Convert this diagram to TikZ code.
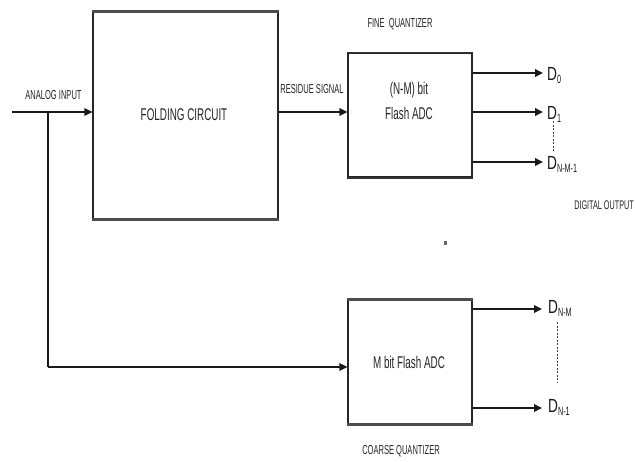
\documentclass[tikz,border=0pt]{standalone}
\usepackage{fontspec}
\setmainfont{Liberation Sans}
\newfontfamily\nf[FakeStretch=0.58]{Liberation Sans}
\newfontfamily\df[FakeStretch=0.72]{Liberation Sans}
\newfontfamily\subf[FakeStretch=0.6]{Liberation Sans}
\usetikzlibrary{arrows.meta}
\newcommand{\dlab}[1]{{\df\fontsize{19}{19}\selectfont D\raisebox{-3.5pt}{\subf\fontsize{12}{12}\selectfont #1}}}
\begin{document}
\begin{tikzpicture}[x=1pt,y=-1pt,
  blockbox/.style={draw=black!85, line width=1.2pt, fill=white, inner sep=0pt},
  wire/.style={line width=1.8pt, draw=black!90},
  arr/.style={wire, -{Triangle[length=8pt,width=7.5pt]}},
  lab/.style={inner sep=0pt, text=black!85, font=\nf\fontsize{13}{13}\selectfont},
  biglab/.style={inner sep=0pt, text=black!85, font=\nf\fontsize{17}{18}\selectfont, align=center},
  dl/.style={inner sep=0pt, anchor=base west, text=black!90},
  dots/.style={dashed, dash pattern=on 2pt off 1.5pt, line width=0.9pt, draw=black!75}
]
\useasboundingbox (0,0) rectangle (635,461);
\fill[white] (0,0) rectangle (635,461);

% blocks
\node[blockbox, minimum width=185pt, minimum height=207pt] (fold) at (185.5,115.5) {};
\node[blockbox, minimum width=124pt, minimum height=124pt] (fine) at (410,115) {};
\node[blockbox, minimum width=124pt, minimum height=124pt] (coarse) at (410,362) {};
% thicker top/bottom edges
\draw[line width=2.6pt, black!70] (fold.north west) -- (fold.north east);
\draw[line width=2.6pt, black!70] (fold.south west) -- (fold.south east);
\draw[line width=1.8pt, black!80] (fine.north west) -- (fine.north east);
\draw[line width=1.8pt, black!80] (fine.south west) -- (fine.south east);
\draw[line width=2.4pt, black!70] (coarse.north west) -- (coarse.north east);
\draw[line width=2.4pt, black!70] (coarse.south west) -- (coarse.south east);

% block texts
\node[biglab] (foldt) at (184,115) {FOLDING CIRCUIT};
\node[biglab] (finet1) at (409,90) {(N-M) bit};
\node[biglab] (finet2) at (409,113) {Flash ADC};
\node[biglab] (coarset) at (409,362) {M bit Flash ADC};

% labels
\node[lab] (ain) at (53.5,95) {ANALOG INPUT};
\node[lab] (res) at (312,89) {RESIDUE SIGNAL};
\node[lab] (fq) at (400,24) {FINE\ \ QUANTIZER};
\node[lab] (cq) at (401,451) {COARSE QUANTIZER};
\node[lab, anchor=east, font=\nf\fontsize{12.5}{12.5}\selectfont] (dout) at (634,205) {DIGITAL OUTPUT};

% input wiring
\coordinate (inp) at (12,112);
\coordinate (br) at (48,112);
\coordinate (brd) at (48,367);
\draw[arr] (inp) -- (inp -| fold.west);
\draw[wire] (br) -- (brd);
\draw[arr] (brd) -- (brd -| coarse.west);
\coordinate (resi) at (278,112);
\draw[arr] (resi -| fold.east) -- (resi -| fine.west);

% fine outputs
\coordinate (f0) at (543,73);
\coordinate (f1) at (543,112);
\coordinate (f2) at (543,162);
\draw[arr] (f0 -| fine.east) -- (f0);
\draw[arr] (f1 -| fine.east) -- (f1);
\draw[arr] (f2 -| fine.east) -- (f2);
\node[dl] (d0) at (547,80) {\dlab{0}};
\node[dl] (d1) at (547,119) {\dlab{1}};
\node[dl] (d2) at (547,169) {\dlab{N-M-1}};
\draw[dots] (553,121) -- (553,151);

% coarse outputs
\coordinate (c0) at (542,309);
\coordinate (c1) at (542,408);
\draw[arr] (c0 -| coarse.east) -- (c0);
\draw[arr] (c1 -| coarse.east) -- (c1);
\node[dl] (dn0) at (548,313) {\dlab{N-M}};
\node[dl] (dn1) at (548,412) {\dlab{N-1}};
\draw[dots] (557,322) -- (557,383);

% small dot
\fill[black!60] (443.5,240.5) rectangle (446.5,244.5);
\end{tikzpicture}
\end{document}
